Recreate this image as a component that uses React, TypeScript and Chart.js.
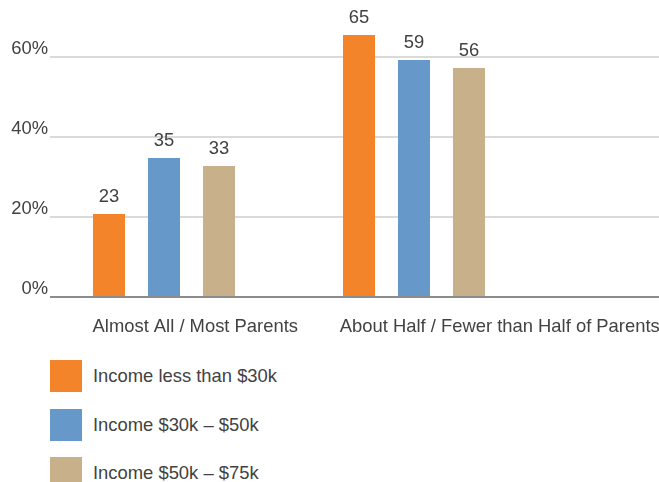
import React, { useEffect, useRef } from "react";
import { Chart, registerables } from "chart.js";

Chart.register(...registerables);

// ---- data ----
const categories = ["Almost All / Most Parents", "About Half / Fewer than Half of Parents"];
const categoryIndex = [0, 1];
const seriesNames = ["Income less than $30k", "Income $30k \u2013 $50k", "Income $50k \u2013 $75k"];
const seriesColors = ["#F3842A", "#6699C9", "#C8B08B"];

// bar heights as drawn in the picture (percent)
const lessThan30k = [20.75, 65.5];
const from30kTo50k = [34.75, 59.25];
const from50kTo75k = [32.75, 57.25];

// value labels printed above the bars
const lessThan30kLabels = ["23", "65"];
const from30kTo50kLabels = ["35", "59"];
const from50kTo75kLabels = ["33", "56"];

const yTickValues = [0, 20, 40, 60];

const seriesValues = [lessThan30k, from30kTo50k, from50kTo75k];
const seriesLabels = [lessThan30kLabels, from30kTo50kLabels, from50kTo75kLabels];

const FONT = "'Liberation Sans', Arial, Helvetica, sans-serif";
const TEXT = "#424242";
const FONT_SIZE = 18.4;

const valueLabelPlugin = {
  id: "valueLabels",
  afterDatasetsDraw(chart: any) {
    const ctx = chart.ctx;
    ctx.save();
    ctx.font = `${FONT_SIZE}px ${FONT}`;
    ctx.fillStyle = TEXT;
    ctx.textAlign = "center";
    ctx.textBaseline = "middle";
    chart.data.datasets.forEach((_ds: any, d: number) => {
      const meta = chart.getDatasetMeta(d);
      meta.data.forEach((bar: any, i: number) => {
        ctx.fillText(seriesLabels[d][i], bar.x, bar.y - 17);
      });
    });
    ctx.restore();
  },
};

export default function App() {
  const canvasRef = useRef<HTMLCanvasElement | null>(null);

  useEffect(() => {
    if (!canvasRef.current) return;
    const chart = new Chart(canvasRef.current, {
      type: "bar",
      data: {
        labels: categories,
        datasets: seriesNames.map((name, d) => ({
          label: name,
          data: categoryIndex.map((i) => ({ x: i, y: seriesValues[d][i] })),
          backgroundColor: seriesColors[d],
          borderWidth: 0,
          xAxisID: "x2",
          yAxisID: "y",
          categoryPercentage: 0.66,
          barPercentage: 0.582,
        })),
      },
      options: {
        animation: false,
        responsive: false,
        maintainAspectRatio: false,
        devicePixelRatio: 1,
        layout: { padding: { top: 17, left: 0, right: 0, bottom: 0 } },
        plugins: {
          legend: { display: false },
          tooltip: { enabled: false },
        },
        scales: {
          x: {
            type: "category",
            position: "bottom",
            offset: true,
            grid: { display: false },
            border: { display: false },
            ticks: {
              padding: 11,
              labelOffset: -7,
              maxRotation: 0,
              minRotation: 0,
              autoSkip: false,
              font: { size: FONT_SIZE, family: FONT },
              color: TEXT,
            },
            afterFit: (s: any) => {
              s.height = 48;
              s.paddingLeft = 0;
              s.paddingRight = 0;
            },
          },
          x2: {
            type: "linear",
            position: "bottom",
            display: false,
            offset: false,
            min: -0.456,
            max: 1.98,
            afterBuildTicks: (s: any) => {
              s.ticks = categoryIndex.map((v) => ({ value: v }));
            },
          },
          y: {
            type: "linear",
            min: 0,
            max: 70,
            grid: {
              color: (ctx: any) => (ctx.tick && ctx.tick.value === 0 ? "#8c8c8c" : "#dadada"),
              lineWidth: 2,
              drawTicks: false,
            },
            border: { display: false },
            ticks: {
              padding: 2,
              labelOffset: -8,
              callback: (v: any) => `${v}%`,
              font: { size: FONT_SIZE, family: FONT },
              color: TEXT,
            },
            afterBuildTicks: (s: any) => {
              s.ticks = yTickValues.map((v) => ({ value: v }));
            },
            afterFit: (s: any) => {
              s.width = 50;
              s.paddingTop = 0;
              s.paddingBottom = 0;
            },
          },
        },
      } as any,
      plugins: [valueLabelPlugin],
    });
    return () => chart.destroy();
  }, []);

  return (
    <div
      style={{
        position: "absolute",
        left: 0,
        top: 0,
        width: 659,
        height: 482,
        overflow: "hidden",
        background: "#ffffff",
      }}
    >
      <canvas
        ref={canvasRef}
        width={659}
        height={345}
        style={{ position: "absolute", left: 0, top: 0, width: 659, height: 345 }}
      />
      {seriesNames.map((name, d) => (
        <div
          key={name}
          style={{
            position: "absolute",
            left: 50,
            top: 360 + d * 48.5,
            height: 32,
            display: "flex",
            alignItems: "center",
            fontFamily: FONT,
            fontSize: FONT_SIZE,
            color: TEXT,
            whiteSpace: "nowrap",
          }}
        >
          <span
            style={{
              display: "inline-block",
              width: 32,
              height: 32,
              background: seriesColors[d],
              marginRight: 11,
              flex: "none",
            }}
          />
          <span>{name}</span>
        </div>
      ))}
    </div>
  );
}
